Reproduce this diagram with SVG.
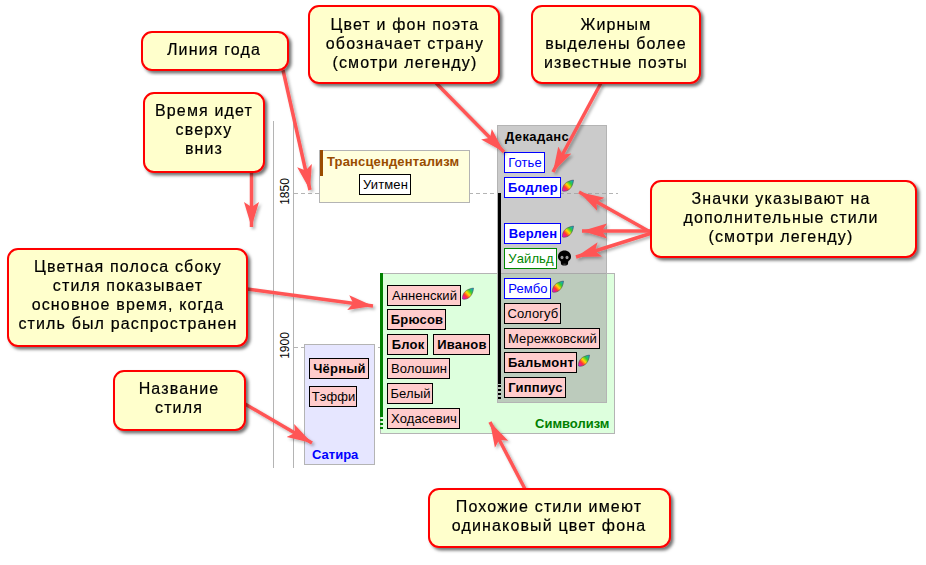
<svg xmlns="http://www.w3.org/2000/svg" width="926" height="565" viewBox="0 0 926 565">
<style>
text{font-family:"Liberation Sans",Arial,sans-serif}
.axis{stroke:#b4b4b4;stroke-width:1;fill:none}
.year{stroke:#b4b4b4;stroke-width:1;stroke-dasharray:4 3;fill:none}
.yl{font-size:12px;fill:#000}
.style{stroke:#b4b4b4;stroke-width:1}
.st{font-size:13px;font-weight:bold;letter-spacing:.15px}
.n{stroke-width:1}
.nt{font-size:13px;letter-spacing:.1px;text-anchor:middle}
.b{font-weight:bold;letter-spacing:.2px}
.pink{fill:#ffcccc;stroke:#000}.pinkt{fill:#000}
.blue{fill:#fff;stroke:#00f}.bluet{fill:#00f}
.green{fill:#fff;stroke:#080}.greent{fill:#080}
.black{fill:#fff;stroke:#000}.blackt{fill:#000}
.call rect{fill:#ffffcc;stroke:#f00;stroke-width:2}
.call text{font-size:16px;letter-spacing:1.15px;text-anchor:middle;fill:#000;stroke:#000;stroke-width:.2px}
.arr{stroke:#f55;stroke-width:3.5;fill:none;marker-end:url(#h)}
</style>
<defs>
<marker id="h" markerUnits="userSpaceOnUse" markerWidth="28" markerHeight="18" refX="25" refY="9" orient="auto"><path d="M0 1.500L25 9L0 16.500L5 9Z" fill="#f55"/></marker>
<filter id="s" x="-10%" y="-10%" width="125%" height="125%"><feDropShadow dx="2.500" dy="2.500" stdDeviation="1.500" flood-color="#000" flood-opacity=".55"/></filter>
<filter id="sa" x="-20%" y="-20%" width="140%" height="140%"><feDropShadow dx="2" dy="2" stdDeviation="1.500" flood-color="#000" flood-opacity=".3"/></filter>
<linearGradient id="rb" x1="0" y1="1" x2="1" y2="0"><stop offset="0" stop-color="#d0f"/><stop offset=".3" stop-color="#f33"/><stop offset=".5" stop-color="#fd0"/><stop offset=".7" stop-color="#3c3"/><stop offset="1" stop-color="#09f"/></linearGradient>
<g id="feather"><path d="M0 11C-.5 7.500 1.500 3.500 5 1.800C7 .8 9 .2 11 0C10.800 4 9 8.500 5.500 10.300C3.500 11.300 1.500 11.500 0 11Z" fill="url(#rb)" stroke="#444" stroke-width=".5"/></g>
<g id="skull"><path d="M6.500 0C2.500 0 0 2.800 0 6.300C0 8.500 1 9.500 2.500 10.500C3 11.500 2.800 12 3 13.500C3.500 15.500 9.500 15.500 10 13.500C10.200 12 10 11.500 10.500 10.500C12 9.500 13 8.500 13 6.300C13 2.800 10.500 0 6.500 0Z" fill="#000"/><ellipse cx="4" cy="7" rx="1.500" ry="1.700" fill="#999"/><ellipse cx="9" cy="7" rx="1.500" ry="1.700" fill="#999"/><path d="M5.200 13V15M6.500 13V15M7.800 13V15" stroke="#888" stroke-width=".4"/></g>
</defs>
<rect width="926" height="565" fill="#fff"/>
<g id="timeline">
<path class="axis" d="M273.500 121V468M293.500 121V468"/>
<path class="year" d="M294 193.500H618M294 347.500H616"/>
<text class="yl" transform="translate(289 191.500) rotate(-90)" text-anchor="middle">1850</text>
<text class="yl" transform="translate(289 345.500) rotate(-90)" text-anchor="middle">1900</text>
</g>
<g id="style-satire"><rect class="style" x="304.500" y="344.500" width="70" height="120" fill="#e6e6ff"/><text class="st" x="312" y="459" fill="#00f" style="letter-spacing:0">Сатира</text></g>
<g id="style-symbolism"><rect class="style" x="380.500" y="273.500" width="234" height="160" fill="#ddffdd"/><rect x="380" y="273" width="3" height="142" fill="#008000"/><path d="M381.500 415V431" stroke="#008000" stroke-width="3" stroke-dasharray="2 2"/><text class="st" x="535" y="428" fill="#008000" style="letter-spacing:0">Символизм</text></g>
<g id="style-transcendentalism"><rect class="style" x="319.500" y="150.500" width="150" height="52" fill="#ffffdd"/><rect x="320" y="150" width="3" height="26" fill="#994c00"/><text class="st" x="327" y="166" fill="#994c00">Трансцендентализм</text></g>
<g id="style-decadence"><rect class="style" x="497.500" y="125.500" width="109" height="277" fill="#a0a0a0" fill-opacity=".55"/><rect x="498" y="193" width="3" height="191" fill="#000"/><path d="M499.500 385V401" stroke="#000" stroke-width="3" stroke-dasharray="2 2"/><text class="st" x="505" y="141" fill="#000" style="letter-spacing:.4px">Декаданс</text></g>
<g id="n-uitmen"><rect class="n black" x="359.500" y="174.500" width="51" height="20"/><text class="nt blackt" x="385.500" y="189">Уитмен</text></g>
<g id="n-gautier"><rect class="n blue" x="504.500" y="152.500" width="40" height="20"/><text class="nt bluet" x="525" y="167">Готье</text></g>
<g id="n-baudelaire"><rect class="n blue" x="504.500" y="177.500" width="56" height="20"/><text class="nt bluet b" x="533" y="192">Бодлер</text><use href="#feather" x="562.500" y="180"/></g>
<g id="n-verlaine"><rect class="n blue" x="504.500" y="223.500" width="56" height="20"/><text class="nt bluet b" x="533" y="238">Верлен</text><use href="#feather" x="562.500" y="226"/></g>
<g id="n-wilde"><rect class="n green" x="504.500" y="248.500" width="52" height="20"/><text class="nt greent" x="531" y="263">Уайльд</text><use href="#skull" x="558" y="250.500"/></g>
<g id="n-rimbaud"><rect class="n blue" x="504.500" y="278.500" width="46" height="20"/><text class="nt bluet" x="528" y="293">Рембо</text><use href="#feather" x="552.500" y="281"/></g>
<g id="n-sologub"><rect class="n pink" x="504.500" y="303.500" width="56" height="20"/><text class="nt pinkt" x="533" y="318">Сологуб</text></g>
<g id="n-merezhkovsky"><rect class="n pink" x="504.500" y="328.500" width="95" height="20"/><text class="nt pinkt" x="552.500" y="343">Мережковский</text></g>
<g id="n-balmont"><rect class="n pink" x="504.500" y="352.500" width="72" height="20"/><text class="nt pinkt b" x="541" y="367">Бальмонт</text><use href="#feather" x="578.500" y="355"/></g>
<g id="n-gippius"><rect class="n pink" x="504.500" y="377.500" width="61" height="20"/><text class="nt pinkt b" x="535.500" y="392">Гиппиус</text></g>
<g id="n-annensky"><rect class="n pink" x="387.500" y="285.500" width="73" height="20"/><text class="nt pinkt" x="424.500" y="300">Анненский</text><use href="#feather" x="462.500" y="288"/></g>
<g id="n-bryusov"><rect class="n pink" x="387.500" y="309.500" width="58" height="20"/><text class="nt pinkt b" x="417" y="324">Брюсов</text></g>
<g id="n-blok"><rect class="n pink" x="387.500" y="334.500" width="40" height="20"/><text class="nt pinkt b" x="408" y="349">Блок</text></g>
<g id="n-ivanov"><rect class="n pink" x="433.500" y="334.500" width="56" height="20"/><text class="nt pinkt b" x="462" y="349">Иванов</text></g>
<g id="n-voloshin"><rect class="n pink" x="387.500" y="358.500" width="62" height="20"/><text class="nt pinkt" x="419" y="373">Волошин</text></g>
<g id="n-bely"><rect class="n pink" x="387.500" y="383.500" width="45" height="20"/><text class="nt pinkt" x="410.500" y="398">Белый</text></g>
<g id="n-khodasevich"><rect class="n pink" x="387.500" y="408.500" width="72" height="20"/><text class="nt pinkt" x="424" y="423">Ходасевич</text></g>
<g id="n-black"><rect class="n pink" x="309.500" y="358.500" width="59" height="20"/><text class="nt pinkt b" x="339.500" y="373">Чёрный</text></g>
<g id="n-teffi"><rect class="n pink" x="309.500" y="386.500" width="47" height="20"/><text class="nt pinkt" x="333.500" y="401">Тэффи</text></g>
<g id="connectors" filter="url(#sa)">
<path class="arr" d="M283 70L310 190"/>
<path class="arr" d="M251.500 172V227"/>
<path class="arr" d="M436 83L504 152"/>
<path class="arr" d="M601 83L553 172"/>
<path class="arr" d="M652 233L579 192"/>
<path class="arr" d="M652 231L582 231"/>
<path class="arr" d="M652 233L576 257"/>
<path class="arr" d="M247 289L373 306"/>
<path class="arr" d="M245 404L312 443"/>
<path class="arr" d="M525 489L490 422"/>
</g>
<g id="c-year" class="call" filter="url(#s)"><rect x="142" y="32" width="146" height="38" rx="10"/><text x="214" y="55">Линия года</text></g>
<g id="c-time" class="call" filter="url(#s)"><rect x="144" y="93" width="120" height="79" rx="10"/><text x="204" y="116">Время идет</text><text x="204" y="135">сверху</text><text x="204" y="154">вниз</text></g>
<g id="c-colour" class="call" filter="url(#s)"><rect x="309" y="6" width="190" height="77" rx="10"/><text x="405" y="30">Цвет и фон поэта</text><text x="405" y="49">обозначает страну</text><text x="405" y="68">(смотри легенду)</text></g>
<g id="c-bold" class="call" filter="url(#s)"><rect x="532" y="6" width="168" height="77" rx="10"/><text x="616" y="30">Жирным</text><text x="616" y="49">выделены более</text><text x="616" y="68">известные поэты</text></g>
<g id="c-icons" class="call" filter="url(#s)"><rect x="651" y="181" width="265" height="76" rx="10"/><text x="781" y="204">Значки указывают на</text><text x="781" y="223">дополнительные стили</text><text x="781" y="242">(смотри легенду)</text></g>
<g id="c-bar" class="call" filter="url(#s)"><rect x="8" y="249" width="239" height="97" rx="10"/><text x="128" y="272">Цветная полоса сбоку</text><text x="128" y="291">стиля показывает</text><text x="128" y="310">основное время, когда</text><text x="128" y="329">стиль был распространен</text></g>
<g id="c-name" class="call" filter="url(#s)"><rect x="114" y="371" width="131" height="59" rx="10"/><text x="179" y="394">Название</text><text x="179" y="413">стиля</text></g>
<g id="c-similar" class="call" filter="url(#s)"><rect x="429" y="489" width="241" height="58" rx="10"/><text x="549" y="512">Похожие стили имеют</text><text x="549" y="531">одинаковый цвет фона</text></g>
</svg>
